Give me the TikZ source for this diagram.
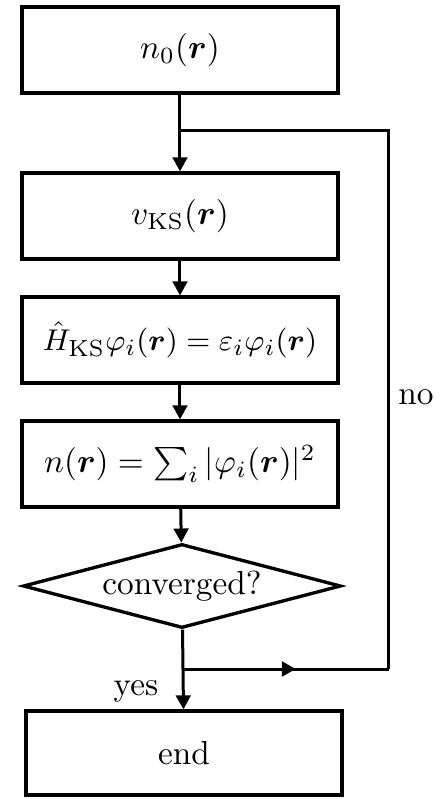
\documentclass[tikz,border=0pt]{standalone}
\usepackage{amsmath}
\usepackage{bm}
\usetikzlibrary{shapes.geometric,arrows.meta,decorations.markings}
\tikzset{
  stepbox/.style={draw, line width=1pt, minimum width=94.8pt, minimum height=25.8pt, inner sep=0pt},
  decide/.style={draw, diamond, line width=1pt, aspect=3.8, minimum width=95.4pt, minimum height=25.2pt, inner sep=0pt},
  flow/.style={line width=0.9pt, -{Triangle[length=4.2pt,width=4.4pt]}},
  plain/.style={line width=0.9pt},
  midarrow/.style={line width=0.9pt, decoration={markings, mark=at position 0.55 with {\arrow{Triangle[length=4.2pt,width=4.4pt]}}}, postaction={decorate}}
}
\begin{document}
\begin{tikzpicture}[x=0.30pt,y=-0.30pt]
\useasboundingbox (0,0) rectangle (440,799);
\node[stepbox] (n0) at (180,50) {$n_0(\bm r)$};
\node[stepbox] (vks) at (180,216) {$v_{\mathrm{KS}}(\bm r)$};
\node[stepbox, font=\fontsize{9.4}{11}\selectfont] (ham) at (180,340) {$\hat H_{\mathrm{KS}}\varphi_i(\bm r)=\varepsilon_i\varphi_i(\bm r)$};
\node[stepbox] (dens) at (180,464) {$n(\bm r)=\sum_i|\varphi_i(\bm r)|^2$};
\node[decide] (conv) at (182,586) {converged?};
\node[stepbox, minimum height=25.2pt] (fin) at (184,753) {end};
\coordinate (join) at (180,130);
\coordinate (split) at (182,669);
\coordinate (br) at (389,669);
\coordinate (tr) at (389,130);
\draw[flow] (n0) -- (vks);
\draw[flow] (vks) -- (ham);
\draw[flow] (ham) -- (dens);
\draw[flow] (dens) -- (conv);
\draw[flow] (conv) -- (fin);
\draw[midarrow] (split) -- (br);
\draw[plain] (br) -- (tr) -- (join);
\node (no) at (416,397) {no};
\node (yes) at (136,691) {yes};
\end{tikzpicture}
\end{document}
